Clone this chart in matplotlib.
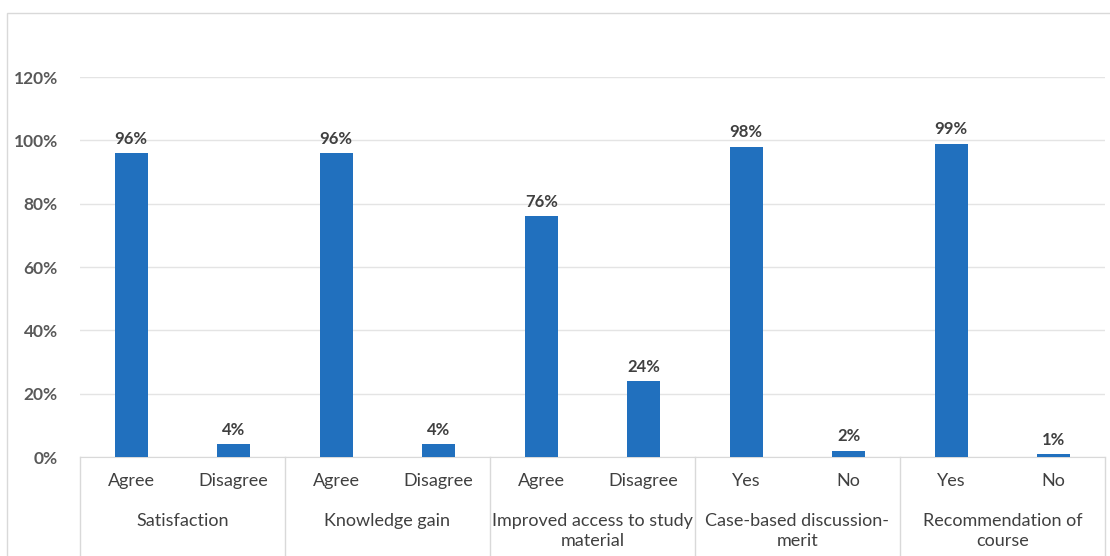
import matplotlib.pyplot as plt
from matplotlib.patches import Rectangle
from matplotlib.transforms import blended_transform_factory
import numpy as np

plt.rcParams['font.family'] = ['Lato', 'DejaVu Sans']

groups = ['Satisfaction', 'Knowledge gain', 'Improved access to study\nmaterial',
          'Case-based discussion-\nmerit', 'Recommendation of\ncourse']
answers = [['Agree', 'Disagree'], ['Agree', 'Disagree'], ['Agree', 'Disagree'],
           ['Yes', 'No'], ['Yes', 'No']]
percent = [[96, 4], [96, 4], [76, 24], [98, 2], [99, 1]]

bar_color = '#2170BE'
text_color = '#404040'
tick_color = '#595959'
grid_color = '#D9D9D9'

fig = plt.figure(figsize=(11.1, 5.56), dpi=100)
ax = fig.add_axes([0.072, 0.178, 0.9235, 0.6835])

labels = [a for pair in answers for a in pair]
vals = np.array([v for pair in percent for v in pair]) / 100.0
x = np.arange(len(vals))

ax.bar(x, vals, width=0.32, color=bar_color, zorder=3)
for xi, v in zip(x, vals):
    ax.text(xi, v + 0.02, '{:.0f}%'.format(v * 100), ha='center', va='bottom',
            fontsize=12, fontweight='bold', color=text_color)

ax.set_xlim(-0.5, len(vals) - 0.5)
ax.set_ylim(0, 1.2)
ax.set_yticks(np.arange(0, 1.21, 0.2))
ax.set_yticklabels(['{:.0f}%'.format(t * 100) for t in np.arange(0, 1.21, 0.2)],
                   fontsize=12.5, fontweight='bold', color=tick_color)
ax.tick_params(axis='y', length=0, pad=16)
ax.set_xticks([])
ax.grid(axis='y', color='#E4E4E4', linewidth=1, zorder=0)
for s in ['left', 'right', 'top']:
    ax.spines[s].set_visible(False)
ax.spines['bottom'].set_color(grid_color)

# two-level category axis below the bars
trans = blended_transform_factory(ax.transData, fig.transFigure)
y0 = 0.178
for xi, lab in zip(x, labels):
    ax.text(xi, y0 - 0.043, lab, transform=trans, ha='center', va='center',
            fontsize=13, color=text_color)
for g, name in enumerate(groups):
    ax.text(2 * g + 0.5, y0 - 0.1, name, transform=trans, ha='center', va='top',
            fontsize=13, color=text_color, linespacing=1.3)
for b in range(len(groups) + 1):
    ax.plot([2 * b - 0.5, 2 * b - 0.5], [y0, -0.05], transform=trans,
            color=grid_color, linewidth=1, clip_on=False)

fig.patches.append(Rectangle((7 / 1110, -0.1), 1.2, 1 - 13 / 556 + 0.1,
                             transform=fig.transFigure, fill=False,
                             edgecolor='#D9D9D9', linewidth=1))

fig.savefig('out.png', dpi=100)
